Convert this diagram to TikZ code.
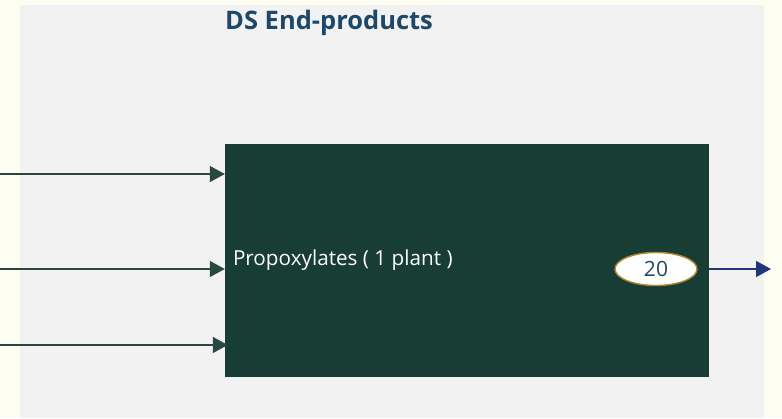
\documentclass[tikz,border=0pt]{standalone}
\usepackage{fontspec}
\setmainfont{Open Sans}
\usepackage{tikz}
\usetikzlibrary{shapes.geometric, arrows.meta, positioning}
\definecolor{pageColor}{RGB}{253, 253, 242}
\definecolor{panelColor}{RGB}{242, 242, 242}
\definecolor{plantColor}{RGB}{24, 61, 53}
\definecolor{titleColor}{RGB}{30, 72, 106}
\definecolor{outColor}{RGB}{31, 55, 120}
\definecolor{ringColor}{RGB}{184, 134, 43}

\begin{document}
\begin{tikzpicture}[
    x=1pt, y=-1pt,
    plant/.style={rectangle, fill=plantColor, minimum width=484pt, minimum height=233pt, inner sep=0pt},
    count/.style={ellipse, draw=ringColor, line width=1.4pt, fill=white, minimum width=82pt, minimum height=33pt, inner sep=0pt, font=\fontsize{21}{24}\selectfont, text=titleColor},
    inarrow/.style={-{Triangle[length=15pt, width=16pt]}, plantColor!85!gray, line width=1.3pt},
    outarrow/.style={-{Triangle[length=15pt, width=16pt]}, outColor, line width=1.3pt}
]
    % Page and panel
    \fill[pageColor] (0,0) rectangle (782,418);
    \fill[panelColor] (20,5) rectangle (764,418);
    \useasboundingbox (0,0) rectangle (782,418);
    \node[anchor=west, inner sep=0pt, font=\fontsize{25.5}{30}\selectfont\bfseries, text=titleColor] (title) at (225,23) {DS End-products};

    % Plant block
    \node[plant] (plant) at (467,260.5) {};
    \node[anchor=west, inner sep=0pt, text=white, font=\fontsize{20.7}{24}\selectfont] (name) at ([xshift=8pt]plant.west |- 0,260) {Propoxylates ( 1 plant )};
    \node[count] (out) at (656,269) {20};

    % Arrows
    \coordinate (in1) at (0,174);
    \coordinate (in2) at (0,269);
    \coordinate (in3) at (0,345);
    \coordinate (dst) at (771,269);
    \draw[inarrow] (in1) -- (in1 -| plant.west);
    \draw[inarrow] (in2) -- (in2 -| plant.west);
    \draw[inarrow] (in3) -- ([xshift=3pt]in3 -| plant.west);
    \draw[outarrow] (out -| plant.east) -- (dst);

\end{tikzpicture}
\end{document}
